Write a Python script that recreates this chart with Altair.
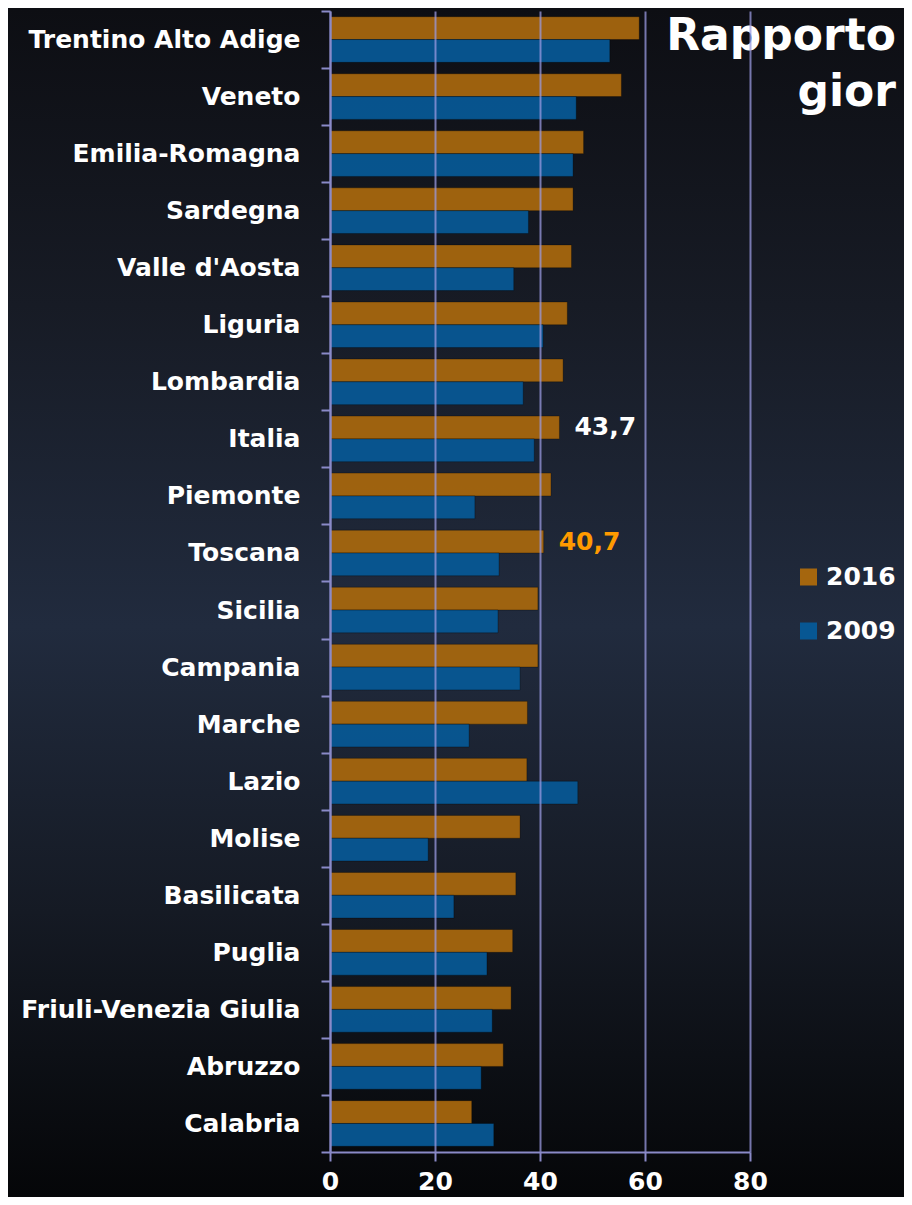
import altair as alt
import pandas as pd

regions = ["Trentino Alto Adige", "Veneto", "Emilia-Romagna", "Sardegna", "Valle d'Aosta",
           "Liguria", "Lombardia", "Italia", "Piemonte", "Toscana", "Sicilia", "Campania",
           "Marche", "Lazio", "Molise", "Basilicata", "Puglia", "Friuli-Venezia Giulia",
           "Abruzzo", "Calabria"]
v2016 = [58.9, 55.5, 48.3, 46.3, 46.0, 45.2, 44.4, 43.7, 42.1, 40.7, 39.6, 39.6,
         37.6, 37.5, 36.2, 35.4, 34.8, 34.5, 33.0, 27.0]
v2009 = [53.3, 46.9, 46.3, 37.8, 35.0, 40.6, 36.8, 38.9, 27.6, 32.2, 32.0, 36.2,
         26.5, 47.2, 18.7, 23.6, 29.9, 30.9, 28.8, 31.2]
series = ["2016", "2009"]
series_colors = ["#A5660E", "#075793"]
x_ticks = [0, 20, 40, 60, 80]

ann_regions = ["Italia", "Toscana"]
ann_text = ["43,7", "40,7"]
ann_colors = ["#FFFFFF", "#FF9A00"]

title_lines = ["Rapporto", "gior"]

rows = []
for r, a, b in zip(regions, v2016, v2009):
    rows.append({"regione": r, "anno": "2016", "valore": a})
    rows.append({"regione": r, "anno": "2009", "valore": b})
df = pd.DataFrame(rows)

ann = pd.DataFrame({
    "regione": ann_regions,
    "anno": ["2016"] * len(ann_regions),
    "valore": [v2016[regions.index(r)] for r in ann_regions],
    "testo": ann_text,
    "colore": ann_colors,
})

FONT = "DejaVu Sans"
LAV = "#8A8AC8"
W, H = 420, 1141
PAD = {"left": 322, "top": 3, "right": 154, "bottom": 45}

y_scale = alt.Scale(paddingInner=0, paddingOuter=0)
off_scale = alt.Scale(paddingInner=0, paddingOuter=0.25)
x_scale = alt.Scale(domain=[0, 80], nice=False, zero=True)

bg = alt.Chart(pd.DataFrame({"k": [0]})).mark_rect(
    fill=alt.LinearGradient(
        gradient="linear", x1=0, x2=0, y1=0, y2=1,
        stops=[
            alt.GradientStop(color="#0D0E13", offset=0),
            alt.GradientStop(color="#171B25", offset=0.25),
            alt.GradientStop(color="#212B3E", offset=0.52),
            alt.GradientStop(color="#151A24", offset=0.76),
            alt.GradientStop(color="#050608", offset=1),
        ],
    ),
).encode(
    x=alt.value(-PAD["left"]), x2=alt.value(W + PAD["right"]),
    y=alt.value(-PAD["top"]), y2=alt.value(H + PAD["bottom"]),
)

y_axis = alt.Axis(tickBand="extent", labelPadding=21, tickSize=9, labelFontSize=25,
                  labelLimit=0, grid=False, zindex=1, labelFont=FONT,
                  labelFontWeight="bold", labelColor="#FFFFFF", domainColor=LAV,
                  domainWidth=2, tickColor=LAV, tickWidth=2)
x_axis = alt.Axis(values=x_ticks, grid=True, labelPadding=8, tickSize=9, labelFontSize=25,
                  labelFlush=False, zindex=1, labelFont=FONT, labelFontWeight="bold",
                  labelColor="#FFFFFF", domainColor=LAV, domainWidth=2, tickColor=LAV,
                  tickWidth=2, gridColor="#9A9AE0", gridOpacity=0.75, gridWidth=2)

bars = alt.Chart(df).mark_bar(
    stroke="#000000", strokeOpacity=0.3, strokeWidth=1, fillOpacity=0.95
).encode(
    y=alt.Y("regione:N", sort=regions, title=None, scale=y_scale, axis=y_axis),
    yOffset=alt.YOffset("anno:N", sort=series, scale=off_scale),
    x=alt.X("valore:Q", scale=x_scale, title=None, axis=x_axis),
    color=alt.Color("anno:N", scale=alt.Scale(domain=series, range=series_colors),
                    legend=alt.Legend(orient="none", legendX=466, legendY=553.5, title=None,
                                      symbolType="square", symbolSize=289,
                                      symbolStrokeWidth=0, symbolOpacity=1,
                                      labelFont=FONT, labelFontSize=25,
                                      labelFontWeight="bold", labelColor="#FFFFFF",
                                      labelOffset=5, rowPadding=28, padding=0)),
)

labels = alt.Chart(ann).mark_text(
    align="left", baseline="middle", dx=15, font=FONT, fontSize=25, fontWeight="bold"
).encode(
    y=alt.Y("regione:N", sort=regions, scale=y_scale, title=None, axis=y_axis),
    yOffset=alt.YOffset("anno:N", sort=series, scale=off_scale),
    x=alt.X("valore:Q", scale=x_scale, title=None, axis=x_axis),
    text="testo:N",
    fill=alt.Fill("colore:N", scale=None, legend=None),
)

title_df = pd.DataFrame({"t": title_lines})
title1 = alt.Chart(title_df.iloc[[0]]).mark_text(
    align="right", baseline="alphabetic", font=FONT, fontSize=44, fontWeight="bold",
    color="#FFFFFF"
).encode(x=alt.value(566), y=alt.value(39), text="t:N")
title2 = alt.Chart(title_df.iloc[[1]]).mark_text(
    align="right", baseline="alphabetic", font=FONT, fontSize=44, fontWeight="bold",
    color="#FFFFFF"
).encode(x=alt.value(566), y=alt.value(95), text="t:N")

chart = alt.layer(bg, bars, labels, title1, title2).properties(
    width=W, height=H, padding=PAD,
    autosize=alt.AutoSizeParams(type="none"),
    background="#0E1016",
).configure_view(stroke=None)

chart.save("out.html", embed_options={"renderer": "svg", "actions": False})
